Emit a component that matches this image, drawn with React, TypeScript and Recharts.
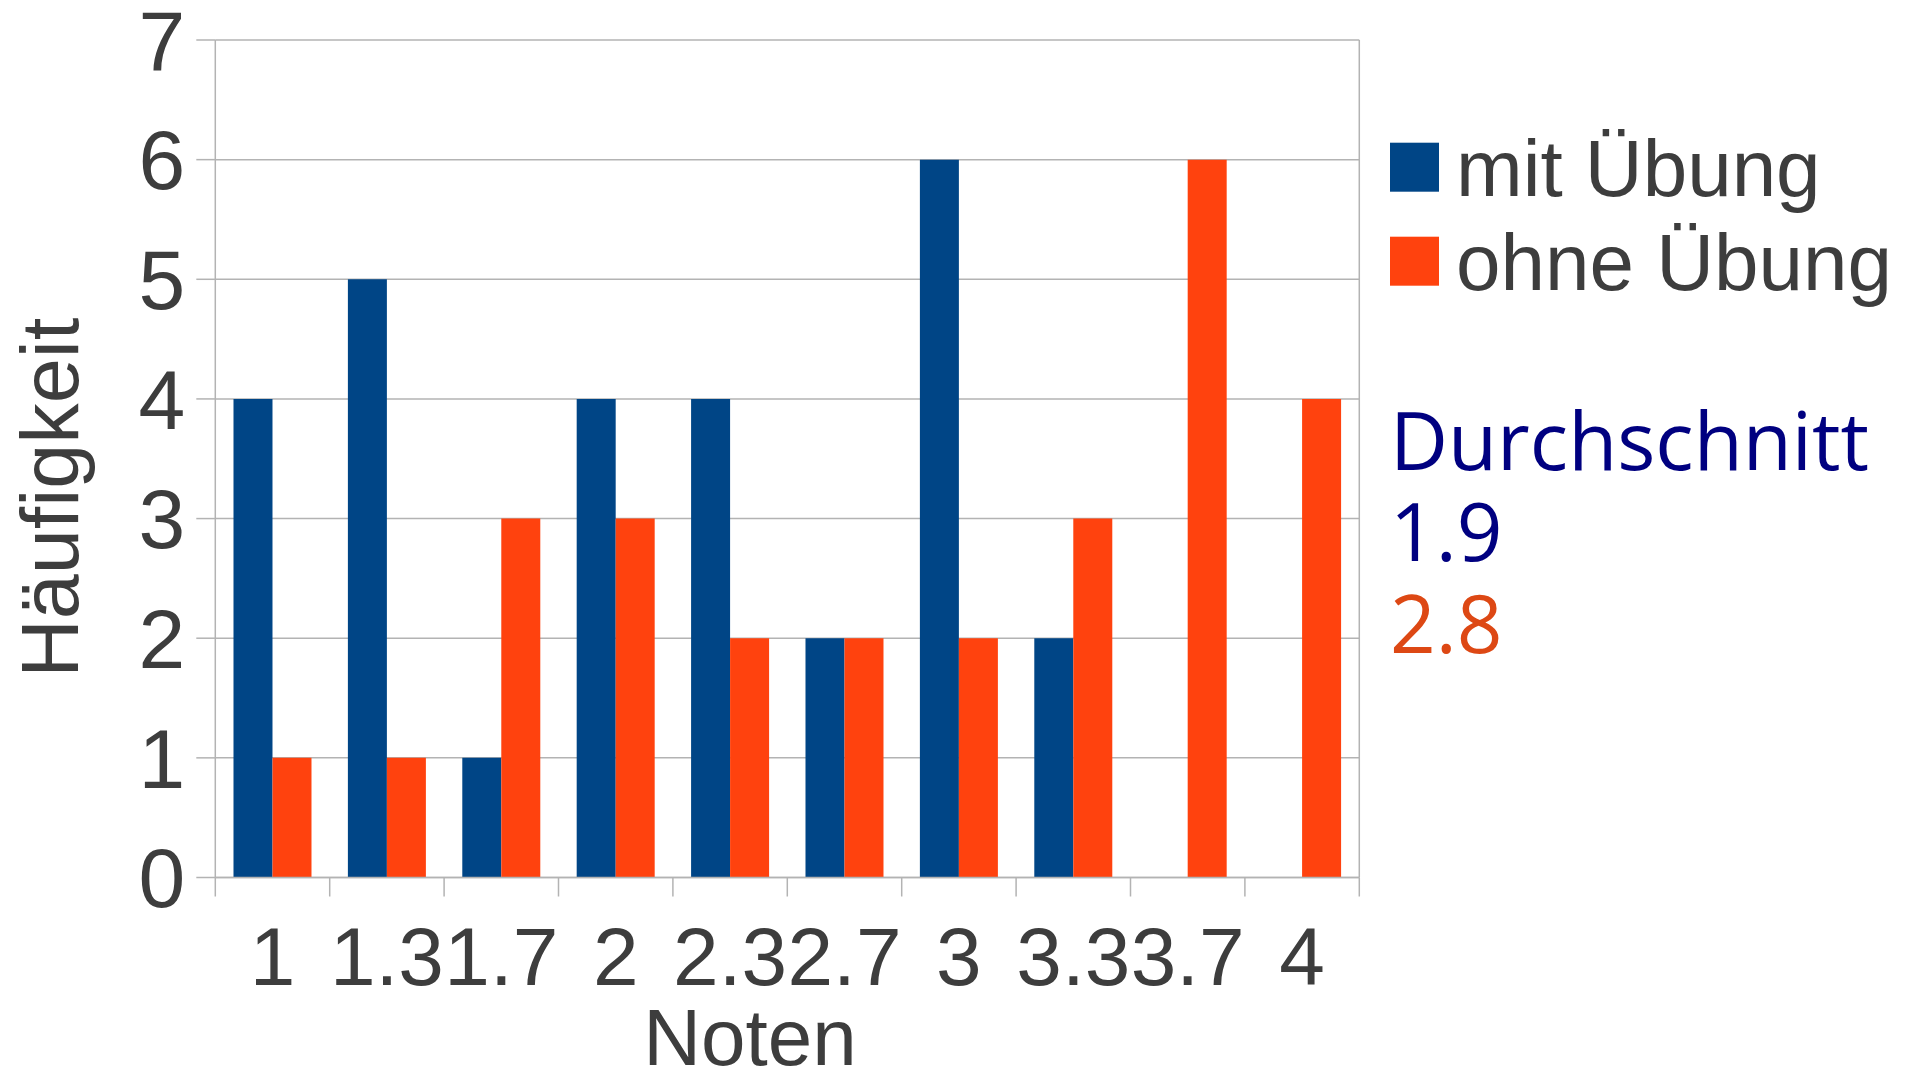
import { BarChart, Bar, XAxis, YAxis, CartesianGrid, Legend, Label } from "recharts";

const noten = ["1", "1.3", "1.7", "2", "2.3", "2.7", "3", "3.3", "3.7", "4"];
const mitUebung = [4, 5, 1, 4, 4, 2, 6, 2, 0, 0];
const ohneUebung = [1, 1, 3, 3, 2, 2, 2, 3, 6, 4];
const yTicks = [0, 1, 2, 3, 4, 5, 6, 7];
const seriesNames = ["mit Übung", "ohne Übung"];
const averageTitle = "Durchschnitt";
const averages = ["1.9", "2.8"];

const BLUE = "#004586";
const ORANGE = "#ff420e";
const NAVY = "#000080";
const AVG_ORANGE = "#dd4814";
const GRID = "#b3b3b3";
const TEXT = "#3d3d3d";
const FONT = "'Liberation Sans', Arial, sans-serif";
const AVG_FONT = "'Open Sans', 'Noto Sans', sans-serif";

const data = noten.map((n, i) => ({ note: n, mit: mitUebung[i], ohne: ohneUebung[i] }));

// tick marks sit on the category borders, labels in the middle
const NoteTick = (props: any) => {
  const { x, y, payload, index, width } = props;
  const half = payload?.offset ?? width / noten.length / 2;
  const last = index === noten.length - 1;
  return (
    <g>
      <line x1={x - half} x2={x - half} y1={y} y2={y + 19} stroke={GRID} strokeWidth={1.5} />
      {last && <line x1={x + half} x2={x + half} y1={y} y2={y + 19} stroke={GRID} strokeWidth={1.5} />}
      <text x={x} y={y + 107.5} textAnchor="middle" fontSize={82} fontFamily={FONT} fill={TEXT}>
        {payload.value}
      </text>
    </g>
  );
};

const LegendBox = (props: any) => {
  const items = props.payload ?? [];
  return (
    <svg width={528} height={560} style={{ display: "block", overflow: "visible" }}>
      {items.map((it: any, i: number) => (
        <g key={it.value}>
          <rect x={10} y={22.7 + i * 94} width={49} height={49} fill={it.color} />
          <text x={76} y={76 + i * 94} fontSize={80} fontFamily={FONT} fill={TEXT}>
            {it.value}
          </text>
        </g>
      ))}
      <text x={10} y={350} fontSize={80} fontFamily={AVG_FONT} fill={NAVY}>
        {averageTitle}
      </text>
      <text x={10} y={440.7} fontSize={80} fontFamily={AVG_FONT} fill={NAVY}>
        {averages[0]}
      </text>
      <text x={10} y={532.7} fontSize={80} fontFamily={AVG_FONT} fill={AVG_ORANGE}>
        {averages[1]}
      </text>
    </svg>
  );
};

export default function App() {
  return (
    <div style={{ position: "absolute", left: 0, top: 0, width: 1908, height: 1070, background: "#fff" }}>
      <BarChart
        width={1908}
        height={1070}
        data={data}
        margin={{ top: 40, right: 548.7, bottom: 92.5, left: 0 }}
        barCategoryGap="15.9%"
        barGap={0}
      >
        <CartesianGrid
          stroke={GRID}
          strokeWidth={1.5}
          horizontal
          verticalCoordinatesGenerator={({ offset }: any) => [offset.left + offset.width]}
        />
        <XAxis
          dataKey="note"
          height={100}
          interval={0}
          stroke={GRID}
          strokeWidth={1.5}
          tickLine={false}
          tickSize={0}
          tickMargin={0}
          tick={<NoteTick />}
        >
          <Label
            content={({ viewBox }: any) => (
              <text
                x={viewBox.x + viewBox.width / 2 - 37.3}
                y={viewBox.y + 187.5}
                textAnchor="middle"
                fontSize={80}
                fontFamily={FONT}
                fill={TEXT}
              >
                Noten
              </text>
            )}
          />
        </XAxis>
        <YAxis
          width={215.3}
          domain={[0, 7]}
          ticks={yTicks}
          interval={0}
          stroke={GRID}
          strokeWidth={1.5}
          tickSize={19}
          tickMargin={11}
          tick={{ fontSize: 84, fontFamily: FONT, fill: TEXT }}
        >
          <Label
            content={({ viewBox }: any) => {
              const lx = viewBox.x + 78.3;
              const ly = viewBox.y + viewBox.height / 2 + 39;
              return (
                <text
                  x={lx}
                  y={ly}
                  transform={`rotate(-90, ${lx}, ${ly})`}
                  textAnchor="middle"
                  fontSize={81}
                  fontFamily={FONT}
                  fill={TEXT}
                >
                  Häufigkeit
                </text>
              );
            }}
          />
        </YAxis>
        <Legend
          layout="horizontal"
          verticalAlign="middle"
          align="center"
          content={<LegendBox />}
          wrapperStyle={{ position: "absolute", left: 1380, top: 120, width: 528, height: 560 }}
        />
        <Bar dataKey="mit" name={seriesNames[0]} fill={BLUE} isAnimationActive={false} />
        <Bar dataKey="ohne" name={seriesNames[1]} fill={ORANGE} isAnimationActive={false} />
      </BarChart>
    </div>
  );
}
